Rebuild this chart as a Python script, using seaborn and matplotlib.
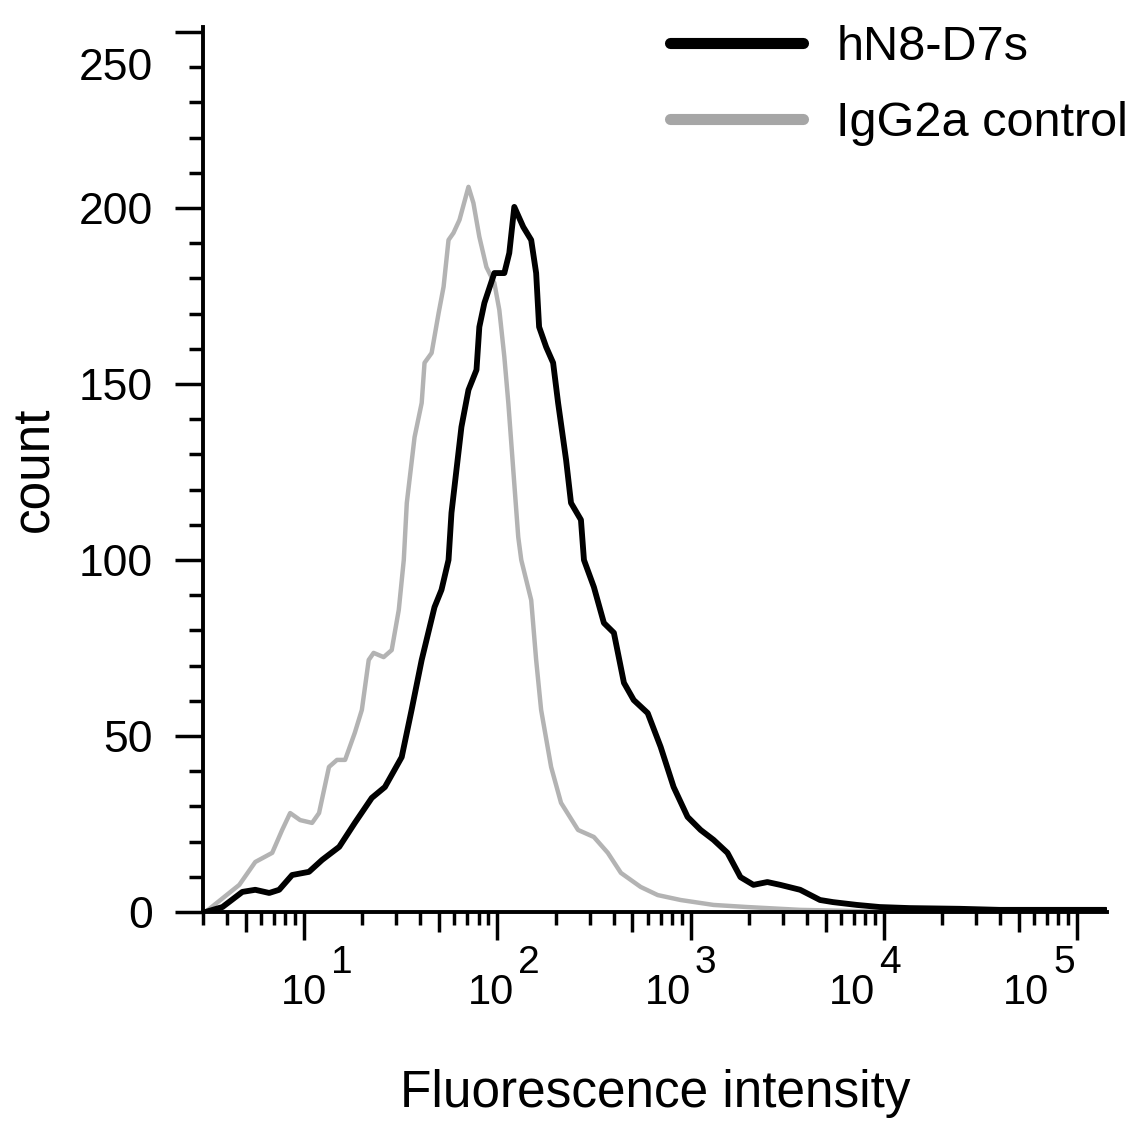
import matplotlib
matplotlib.use("Agg")
import matplotlib.pyplot as plt
import matplotlib.transforms as mtransforms
from matplotlib.ticker import FixedLocator, NullFormatter
import seaborn as sns
import pandas as pd

# hN8-D7s staining: fluorescence intensity vs count
hn8_x = [3.09, 3.78, 4.79, 5.59, 6.60, 7.43, 8.67, 10.6, 12.4, 15.2, 18.3, 22.4,
         26.2, 32.0, 36.0, 40.6, 47.3, 51.4, 55.9, 57.9, 65.2, 70.9, 78.0, 80.7,
         85.7, 96.5, 108.7, 115.3, 122.4, 136.2, 149.7, 158.8, 164.5, 178.9,
         194.4, 206.3, 226.9, 240.6, 270.8, 280.7, 316, 356, 401, 452, 508, 600,
         700, 817, 965, 1127, 1314, 1552, 1812, 2115, 2497, 2912, 3690, 4677,
         5460, 7260, 9530, 13600, 24700, 39700, 141000]
hn8_y = [0, 1.4, 5.7, 6.3, 5.4, 6.3, 10.5, 11.4, 14.8, 18.5, 25.3, 32.4,
         35.5, 44.0, 57.4, 71.6, 86.6, 91.5, 100.0, 113.4, 137.8, 148.3, 154.0,
         166.2, 173.0, 181.5, 181.5, 187.2, 200.3, 194.6, 190.9, 181.5, 166.2,
         160.5, 156.0, 144.6, 128.4, 116.2, 111.4, 100.0, 92.3, 82.1, 79.3, 65.1,
         60.2, 56.5, 46.9, 35.5, 27.0, 23.3, 20.5, 16.8, 9.9, 7.7, 8.5, 7.7, 6.3,
         3.4, 2.8, 2.0, 1.4, 1.1, 0.9, 0.6, 0.6]

# IgG2a isotype control
igg_x = [3.09, 4.62, 5.59, 6.84, 7.70, 8.47, 9.54, 11.0, 11.95, 13.45, 14.8,
         16.3, 18.3, 19.9, 21.6, 22.9, 25.8, 28.4, 30.9, 32.8, 34.0, 37.3, 40.6,
         42.0, 45.7, 49.7, 52.7, 55.9, 59.3, 63.7, 70.9, 75.2, 80.7, 87.8, 96.5,
         102.4, 108.7, 114, 120.9, 128.3, 133, 149.7, 158.8, 168.5, 189.8, 213.6,
         261.6, 316, 373, 436, 552, 676, 888, 1314, 1967, 3690, 6680, 12000,
         141000]
igg_y = [0, 7.7, 14.2, 16.8, 23.3, 28.1, 26.1, 25.3, 28.1, 41.2, 43.2, 43.2,
         50.9, 57.4, 71.6, 73.6, 72.4, 74.4, 85.8, 100.0, 116.2, 134.9, 144.6,
         156.0, 158.8, 170.2, 177.6, 190.9, 192.9, 196.6, 206.0, 201.4, 191.8,
         183.2, 178.7, 171.0, 157.7, 144.6, 125.6, 106.5, 100.0, 88.6, 71.6,
         57.4, 41.2, 31.0, 23.3, 21.3, 16.8, 11.1, 7.1, 4.8, 3.4, 2.0, 1.4, 0.6,
         0.3, 0, 0]

series_names = ["hN8-D7s", "IgG2a control"]
series_colors = ["#000000", "#b3b3b3"]
x_major = [1e1, 1e2, 1e3, 1e4, 1e5]
x_exponents = ["1", "2", "3", "4", "5"]
x_mid = [5, 50, 500, 5000, 50000]
y_ticks = [0, 50, 100, 150, 200, 250]
y_minor = [v for v in range(0, 251, 10) if v % 50]

sns.set_style("ticks")
plt.rcParams["font.family"] = ["Liberation Sans", "DejaVu Sans"]
for key in ["text.color", "axes.labelcolor", "xtick.color", "ytick.color",
            "axes.edgecolor"]:
    plt.rcParams[key] = "black"

fig = plt.figure(figsize=(11.35, 11.35), dpi=100)
ax = fig.add_axes([0.1789, 0.1965, 0.7965, 0.7797])

sns.lineplot(x=igg_x, y=igg_y, color=series_colors[1], lw=3.2,
             label=series_names[1], ax=ax)
sns.lineplot(x=hn8_x, y=hn8_y, color=series_colors[0], lw=4.2,
             label=series_names[0], ax=ax)

ax.set_xscale("log")
ax.set_xlim(3.0, 1.43e5)
ax.set_ylim(0, 251.4)

for s in ["top", "right"]:
    ax.spines[s].set_visible(False)
for s in ["left", "bottom"]:
    ax.spines[s].set_linewidth(2.8)

# x ticks: decades long, 5x medium (via twin), others short
minor_x = [m * 10 ** e for e in range(0, 5) for m in (2, 3, 4, 6, 7, 8, 9)
           if 3 <= m * 10 ** e <= 1.43e5]
ax.xaxis.set_major_locator(FixedLocator(x_major))
ax.set_xticklabels(["10"] * len(x_major))
ax.xaxis.set_minor_locator(FixedLocator(minor_x))
ax.xaxis.set_minor_formatter(NullFormatter())
ax.tick_params(axis="x", which="major", length=20, width=2.5, labelsize=30,
               pad=24, direction="out")
ax.tick_params(axis="x", which="minor", length=9.5, width=2.5, direction="out")

ax2 = ax.twiny()
ax2.set_xscale("log")
ax2.set_xlim(ax.get_xlim())
ax2.xaxis.set_ticks_position("bottom")
ax2.xaxis.set_major_locator(FixedLocator(x_mid))
ax2.xaxis.set_major_formatter(NullFormatter())
ax2.xaxis.set_minor_locator(FixedLocator([]))
ax2.tick_params(axis="x", which="major", length=14.5, width=2.5,
                labelbottom=False, labeltop=False, top=False)
for s in ax2.spines.values():
    s.set_visible(False)

ax.yaxis.set_major_locator(FixedLocator(y_ticks))
ax.yaxis.set_minor_locator(FixedLocator(y_minor))
ax.tick_params(axis="y", which="major", length=20, width=2.5, labelsize=32,
               pad=16, direction="out")
ax.tick_params(axis="y", which="minor", length=10, width=2.5, direction="out")

# decade labels sit unevenly in the original export
label_offsets = [13, 7, -10, -19, -38]
for lab, off in zip(ax.get_xticklabels(), label_offsets):
    lab.set_transform(lab.get_transform() + mtransforms.ScaledTranslation(
        (off - 13) / 100, 0, fig.dpi_scale_trans))
for xv, exp, off in zip(x_major, x_exponents, label_offsets):
    ax.annotate(exp, xy=(xv, 0), xycoords=("data", "axes fraction"),
                xytext=(off + 14, -61), textcoords="offset pixels",
                ha="left", va="baseline", fontsize=28, annotation_clip=False)

shift_top = mtransforms.ScaledTranslation(0, -32 / 100, fig.dpi_scale_trans)
ax.get_yticklabels()[-1].set_transform(
    ax.get_yticklabels()[-1].get_transform() + shift_top)

ax.set_xlabel("Fluorescence intensity", fontsize=37, labelpad=40)
ax.set_ylabel("count", fontsize=37, labelpad=14)

handles, labels = ax.get_legend_handles_labels()
order = [labels.index(n) for n in series_names]
leg = ax.legend([handles[i] for i in order], [labels[i] for i in order],
                loc="upper right", bbox_to_anchor=(1128 / 1135, 1 - 25 / 1135),
                bbox_transform=fig.transFigure, frameon=False, fontsize=35,
                handlelength=2.74, handletextpad=0.68, labelspacing=0.63,
                borderpad=0, borderaxespad=0)
for line in leg.get_lines():
    line.set_linewidth(8)
leg.get_lines()[1].set_color("#a6a6a6")

fig.savefig("out.png", dpi=100)
